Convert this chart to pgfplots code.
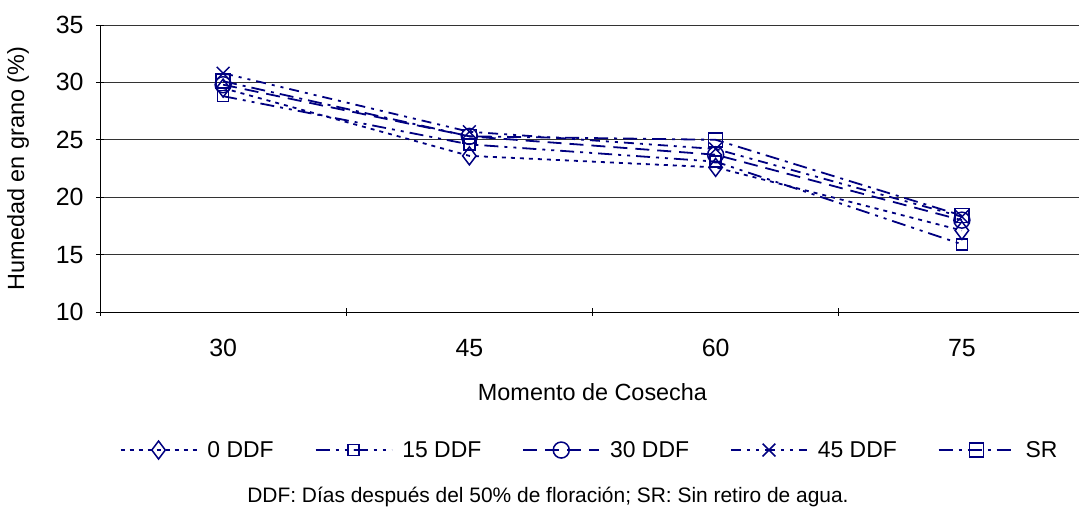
\documentclass[border=0pt]{standalone}
\usepackage{pgfplots}
\pgfplotsset{compat=1.18}
\usepackage{fontspec}
\setmainfont{Liberation Sans}
\definecolor{navy}{RGB}{0,0,128}
\begin{document}
\begin{tikzpicture}[x=1bp,y=1bp]
\useasboundingbox (0,0) rectangle (1079bp,513bp);
\begin{axis}[
  at={(100bp,201bp)}, anchor=south west,
  scale only axis, width=985bp, height=287bp,
  xmin=-0.5, xmax=3.5, ymin=10, ymax=35,
  xtick={0,1,2,3}, xticklabels={30,45,60,75},
  minor xtick={-0.5,0.5,1.5,2.5,3.5},
  ytick={10,15,...,35},
  major x tick style={draw=none},
  minor tick length=8bp, major tick length=8bp,
  tick align=outside,
  axis lines=left, axis line style={-, black, line width=0.8bp},
  ymajorgrids, grid style={black!80, line width=0.8bp},
  tick style={black, line width=0.8bp},
  /pgf/number format/assume math mode=true,
  ticklabel style={font=\fontsize{25}{28}\selectfont},
  yticklabel style={xshift=-9bp},
  xticklabel style={yshift=-20bp},
  ylabel={Humedad en grano (\%)},
  ylabel style={font=\fontsize{23.5}{27}\selectfont, at={(axis description cs:0,0.5)}, anchor=center, rotate=0, yshift=82bp},
  xlabel={Momento de Cosecha},
  xlabel style={font=\fontsize{23.5}{27}\selectfont, at={(axis description cs:0.5,0)}, anchor=center, yshift=-80bp},
  legend columns=5,
  legend style={draw=none, at={(0.497,-0.481)}, anchor=center, font=\fontsize{23}{26}\selectfont,
    /tikz/every odd column/.append style={column sep=8bp},
    /tikz/every even column/.append style={column sep=39bp}},
  legend image code/.code={
    \draw[mark repeat=2,mark phase=2] plot coordinates {(0bp,0bp) (38bp,0bp) (76bp,0bp)};
  },
  every axis plot/.append style={navy, line width=1.8bp, mark options={solid, line width=1.5bp, fill=white}},
]
\addplot[dash pattern=on 4bp off 5bp, mark=diamond, mark size=9bp] coordinates {(0,29.5) (1,23.6) (2,22.6) (3,17.1)};
\addlegendentry{0 DDF}
\addplot[dash pattern=on 14bp off 6bp on 3bp off 6bp on 3bp off 6bp, mark=square, mark size=5.5bp] coordinates {(0,28.8) (1,24.6) (2,23.1) (3,15.9)};
\addlegendentry{15 DDF}
\addplot[dash pattern=on 14bp off 8bp, mark=o, mark size=8bp] coordinates {(0,29.8) (1,25.3) (2,23.7) (3,18.0)};
\addlegendentry{30 DDF}
\addplot[dash pattern=on 10bp off 6bp on 3bp off 6bp on 3bp off 6bp, mark=x, mark size=9bp] coordinates {(0,30.8) (1,25.7) (2,24.2) (3,18.3)};
\addlegendentry{45 DDF}
\addplot[dash pattern=on 14bp off 6bp on 3bp off 6bp, mark=square, mark size=7bp] coordinates {(0,30.1) (1,25.3) (2,25.0) (3,18.4)};
\addlegendentry{SR}
\end{axis}
\node[font=\fontsize{21}{24}\selectfont, anchor=center] at (548bp,16bp) {DDF: Días después del 50\% de floración; SR: Sin retiro de agua.};
\end{tikzpicture}
\end{document}
